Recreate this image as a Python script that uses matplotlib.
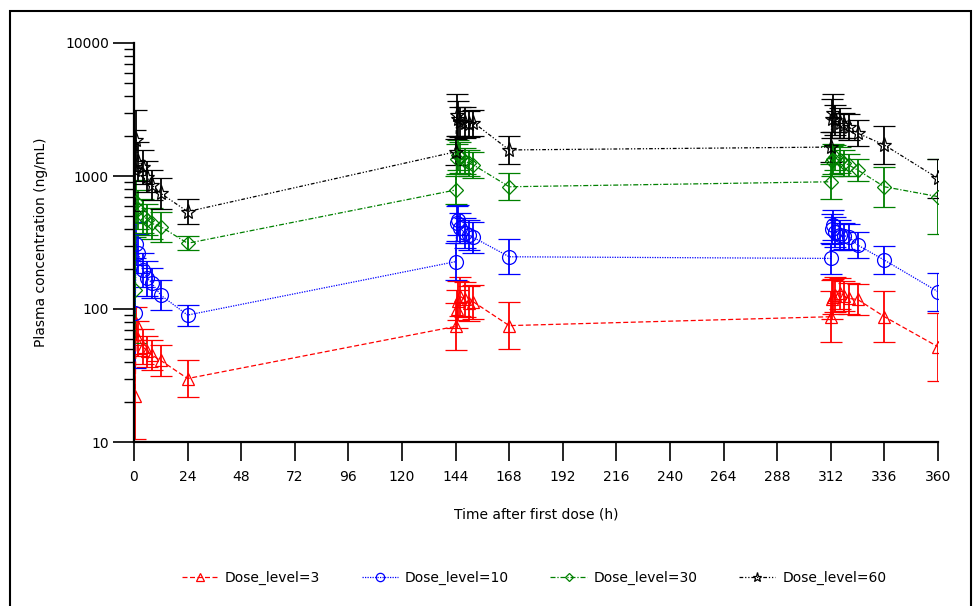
import numpy as np
import matplotlib
matplotlib.use("Agg")
from matplotlib import pyplot as plt
from matplotlib.patches import Rectangle
from matplotlib.ticker import LogLocator, NullFormatter

# sampling times (h): day 1, day 7, day 14
times = [0.5, 1, 2, 4, 6, 8, 12, 24,
         144, 144.5, 145, 146, 148, 150, 152, 168,
         312, 312.5, 313, 314, 316, 318, 320, 324, 336, 360]

# geometric means (ng/mL)
dose3 = [22, 78, 60, 52, 48, 45, 41, 30,
         74, 100, 115, 125, 118, 110, 113, 75,
         87.5, 118, 124, 128, 131, 125, 120, 118, 87.5, 52]
dose10 = [93, 310, 262, 196, 170, 156, 127, 90,
          227, 440, 467, 405, 372, 360, 345, 247,
          240, 400, 428, 381, 360, 355, 350, 303, 233, 135]
dose30 = [139, 640, 560, 500, 470, 440, 416, 312,
          785, 1350, 1440, 1380, 1300, 1250, 1210, 830,
          905, 1300, 1350, 1380, 1320, 1260, 1210, 1110, 830, 700]
dose60 = [1100, 1850, 1280, 1170, 990, 855, 740, 540,
          1520, 2880, 2700, 2560, 2520, 2450, 2520, 1570,
          1650, 2700, 2960, 2630, 2500, 2400, 2340, 2100, 1710, 960]

# geometric SD factors
gsd3 = [2.1, 1.33, 1.35, 1.35, 1.3, 1.3, 1.3, 1.37,
        1.5, 1.4, 1.4, 1.4, 1.35, 1.35, 1.35, 1.5,
        1.55, 1.4, 1.35, 1.35, 1.3, 1.3, 1.3, 1.3, 1.55, 1.8]
gsd10 = [2.6, 1.45, 1.4, 1.35, 1.35, 1.3, 1.3, 1.2,
         1.37, 1.35, 1.3, 1.3, 1.3, 1.3, 1.3, 1.35,
         1.3, 1.3, 1.3, 1.3, 1.3, 1.25, 1.25, 1.25, 1.28, 1.39]
gsd30 = [2.5, 1.45, 1.4, 1.35, 1.3, 1.3, 1.3, 1.13,
         1.28, 1.3, 1.3, 1.3, 1.25, 1.25, 1.25, 1.26,
         1.35, 1.3, 1.3, 1.25, 1.25, 1.25, 1.2, 1.2, 1.42, 1.92]
gsd60 = [2.0, 1.7, 1.4, 1.35, 1.3, 1.3, 1.3, 1.25,
         1.25, 1.44, 1.35, 1.3, 1.3, 1.25, 1.25, 1.28,
         1.3, 1.4, 1.39, 1.3, 1.3, 1.25, 1.25, 1.25, 1.39, 1.4]

labels = ["Dose_level=3", "Dose_level=10", "Dose_level=30", "Dose_level=60"]

plt.rcParams['font.family'] = ['DejaVu Sans']
plt.rcParams['font.size'] = 10

fig = plt.figure(figsize=(9.76, 6.06), dpi=100)
ax = fig.add_axes([134/976, 1-442/606, (938-134)/976, (442-43)/606])

series = [
    (dose3, gsd3, 'red', '^', (0, (4, 2)), 9),
    (dose10, gsd10, 'blue', 'o', (0, (1, 1)), 10),
    (dose30, gsd30, 'green', 'D', (0, (4, 1.5, 1, 1.5)), 7),
    (dose60, gsd60, 'black', '*', (0, (3, 1.5, 1, 1.5, 1, 1.5)), 11),
]
handles = []
for (m, g, col, mk, ls, ms) in series:
    m = np.array(m, float)
    g = np.array(g, float)
    err = [m - m / g, m * g - m]
    eb = ax.errorbar(times, m, yerr=err, color=col, marker=mk, ms=ms,
                     mfc='none', mec=col, mew=0.9, linestyle=ls, linewidth=0.9,
                     elinewidth=1.3, capsize=8, capthick=1.3)
    handles.append(eb[0])

ax.set_yscale('log')
ax.set_ylim(10, 10000)
ax.set_xlim(0, 360)
ax.set_xticks(np.arange(0, 361, 24))
ax.set_yticks([10, 100, 1000, 10000])
ax.set_yticklabels(['10', '100', '1000', '10000'])
ax.yaxis.set_minor_locator(LogLocator(base=10, subs=np.arange(2, 10)))
ax.yaxis.set_minor_formatter(NullFormatter())

for s in ['top', 'right']:
    ax.spines[s].set_visible(False)
for s in ['left', 'bottom']:
    ax.spines[s].set_linewidth(1.6)

ax.tick_params(axis='y', which='major', length=15, width=1.2, direction='out', pad=3)
ax.tick_params(axis='y', which='minor', length=7, width=1.0, direction='out')
ax.tick_params(axis='x', which='major', length=14, width=1.2, direction='out', pad=6)

ax.set_xlabel("Time after first dose (h)", labelpad=17)
ax.set_ylabel("Plasma concentration (ng/mL)", labelpad=12)

fig.legend(handles, labels, loc='center', bbox_to_anchor=(534/976, 1-578/606),
           ncol=4, frameon=False, markerscale=0.6, handlelength=2.6,
           columnspacing=3.0, handletextpad=0.5)

fig.patches.append(Rectangle((10/976, -0.05), 961/976, 1.05 - 11/606,
                             transform=fig.transFigure, fill=False,
                             edgecolor='black', linewidth=1.5))

fig.savefig("out.png", dpi=100)
